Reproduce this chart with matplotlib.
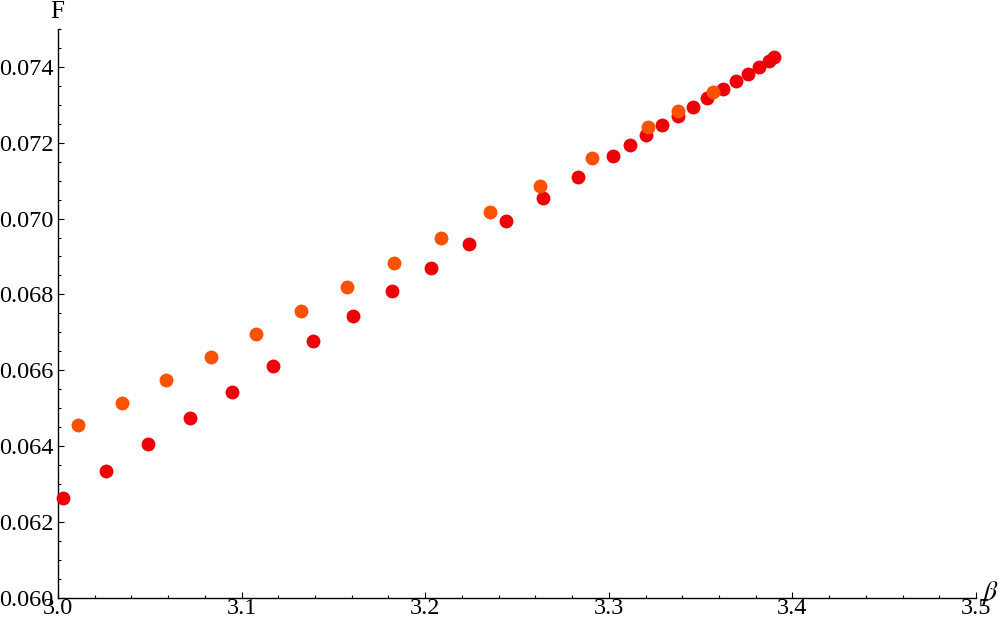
import numpy as np
import matplotlib
matplotlib.use('Agg')
import matplotlib.pyplot as plt
from matplotlib.ticker import MultipleLocator, FormatStrFormatter

# red series
beta_red = [3.0027, 3.0261, 3.0489, 3.0719, 3.0946, 3.1171, 3.1387, 3.1605,
            3.1818, 3.2032, 3.2239, 3.2440, 3.2640, 3.2831, 3.3021, 3.3115,
            3.3200, 3.3290, 3.3379, 3.3457, 3.3537, 3.3620, 3.3693, 3.3757,
            3.3818, 3.3874, 3.3900]
F_red = [0.062625, 0.063346, 0.064058, 0.064744, 0.065430, 0.066116, 0.066776,
         0.067435, 0.068095, 0.068702, 0.069335, 0.069942, 0.070549, 0.071103,
         0.071657, 0.071939, 0.072203, 0.072467, 0.072704, 0.072950, 0.073172,
         0.073409, 0.073628, 0.073813, 0.074005, 0.074164, 0.074253]

# orange series
beta_orange = [3.0109, 3.0347, 3.0587, 3.0833, 3.1078, 3.1322, 3.1572, 3.1830,
               3.2086, 3.2353, 3.2625, 3.2907, 3.3211, 3.3379, 3.3566]
F_orange = [0.064551, 0.065140, 0.065752, 0.066354, 0.066960, 0.067567,
            0.068201, 0.068834, 0.069493, 0.070179, 0.070865, 0.071604,
            0.072406, 0.072836, 0.073330]

plt.rcParams['font.family'] = ['Liberation Serif', 'DejaVu Serif']
plt.rcParams['mathtext.fontset'] = 'stix'

fig = plt.figure(figsize=(10, 6.26), dpi=100)
ax = fig.add_axes([0.058, 0.0455, 0.918, 0.908])

ax.scatter(beta_red, F_red, s=100, color='#EE0008', linewidths=0, zorder=3, clip_on=False)
ax.scatter(beta_orange, F_orange, s=100, color='#FA5200', linewidths=0, zorder=4, clip_on=False)

ax.set_xlim(3.0, 3.5)
ax.set_ylim(0.060, 0.075)

ax.spines['top'].set_visible(False)
ax.spines['right'].set_visible(False)
for sp in ('left', 'bottom'):
    ax.spines[sp].set_linewidth(1.0)

ax.xaxis.set_major_locator(MultipleLocator(0.1))
ax.xaxis.set_minor_locator(MultipleLocator(0.02))
ax.yaxis.set_major_locator(MultipleLocator(0.002))
ax.yaxis.set_minor_locator(MultipleLocator(0.0005))
ax.xaxis.set_major_formatter(FormatStrFormatter('%.1f'))
ax.yaxis.set_major_formatter(FormatStrFormatter('%.3f'))

ax.tick_params(which='both', direction='in', labelsize=17.5, width=0.8)
ax.tick_params(which='major', length=4.5)
ax.tick_params(which='minor', length=2.3)
ax.tick_params(axis='x', pad=0.5)
ax.tick_params(axis='y', pad=3)

fig.text(0.057, 0.981, 'F', fontsize=18, ha='center', va='center')
fig.text(0.990, 0.052, r'$\beta$', fontsize=20, ha='center', va='center')

fig.savefig('out.png', dpi=100)
